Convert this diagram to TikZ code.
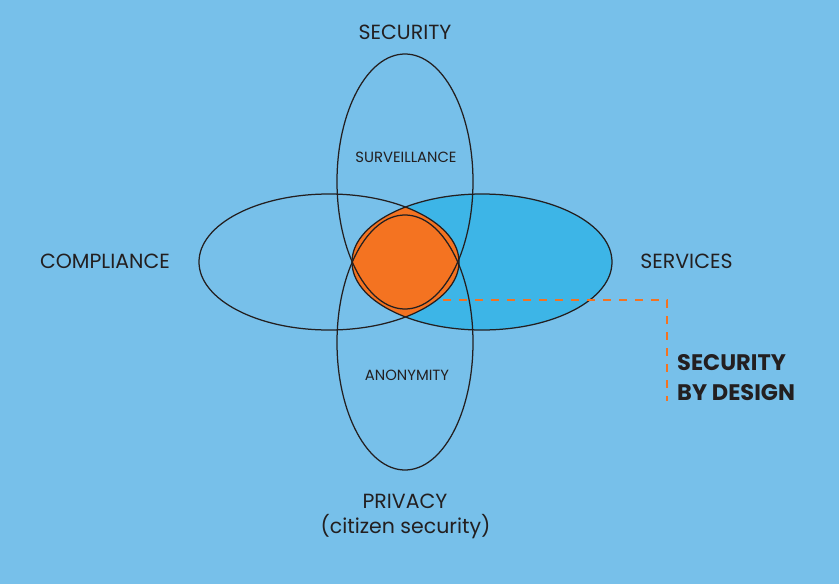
\documentclass[tikz,border=0pt]{standalone}
\usepackage{fontspec}
\setmainfont{Poppins}
\definecolor{bgblue}{HTML}{77C0EA}
\definecolor{svcblue}{HTML}{3DB5E7}
\definecolor{sbdorange}{HTML}{F47321}
\definecolor{inkdark}{HTML}{231F20}
\tikzset{
  ring/.style={draw=inkdark, line width=1.25pt},
  biglabel/.style={text=inkdark, inner sep=0pt, font=\fontsize{20.5}{24}\selectfont},
  smalllabel/.style={text=inkdark, inner sep=0pt, font=\fontsize{14.8}{17}\selectfont},
  sbdlabel/.style={text=inkdark, inner sep=0pt, align=left, font=\fontsize{22.5}{30}\selectfont\bfseries},
  sbdline/.style={draw=sbdorange, line width=2.8pt, dash pattern=on 8pt off 8pt},
  hring/.style={x radius=130pt, y radius=68pt},
  vring/.style={x radius=68pt, y radius=127.5pt}
}
\begin{document}
\begin{tikzpicture}[x=1pt,y=-1pt]
\useasboundingbox (0,0) rectangle (839,584);
\fill[bgblue] (0,0) rectangle (839,584);
% services fill
\fill[svcblue] (482,262) ellipse[hring];
% orange core
\begin{scope}
  \clip (329,262) ellipse[hring];
  \fill[sbdorange] (482,262) ellipse[hring];
\end{scope}
\begin{scope}
  \clip (405,181.5) ellipse[vring];
  \fill[sbdorange] (405,342.5) ellipse[vring];
\end{scope}
% outlines
\draw[ring] (329,262) ellipse[hring];
\draw[ring] (482,262) ellipse[hring];
\draw[ring] (405,181.5) ellipse[vring];
\draw[ring] (405,342.5) ellipse[vring];
% labels
\node[biglabel] (security) at (405,32) {SECURITY};
\node[biglabel] (compliance) at (105,261.5) {COMPLIANCE};
\node[biglabel] (services) at (686.5,261.5) {SERVICES};
\node[biglabel, anchor=base] (privacy) at (405,508.3) {PRIVACY};
\node[biglabel, anchor=base] (citizen) at (405.5,533.3) {(citizen security)};
\node[smalllabel] (surveillance) at (406,157) {SURVEILLANCE};
\node[smalllabel] (anonymity) at (407,375) {ANONYMITY};
\node[sbdlabel, anchor=north west] (sbd) at (677,354.5) {SECURITY\\BY DESIGN};
% dashed leader
\coordinate (leadstart) at (443,300);
\coordinate (leadcorner) at (667,300);
\coordinate (leadend) at (667,401);
\draw[sbdline] (leadstart) -- (leadcorner) -- (leadend);
\end{tikzpicture}
\end{document}
